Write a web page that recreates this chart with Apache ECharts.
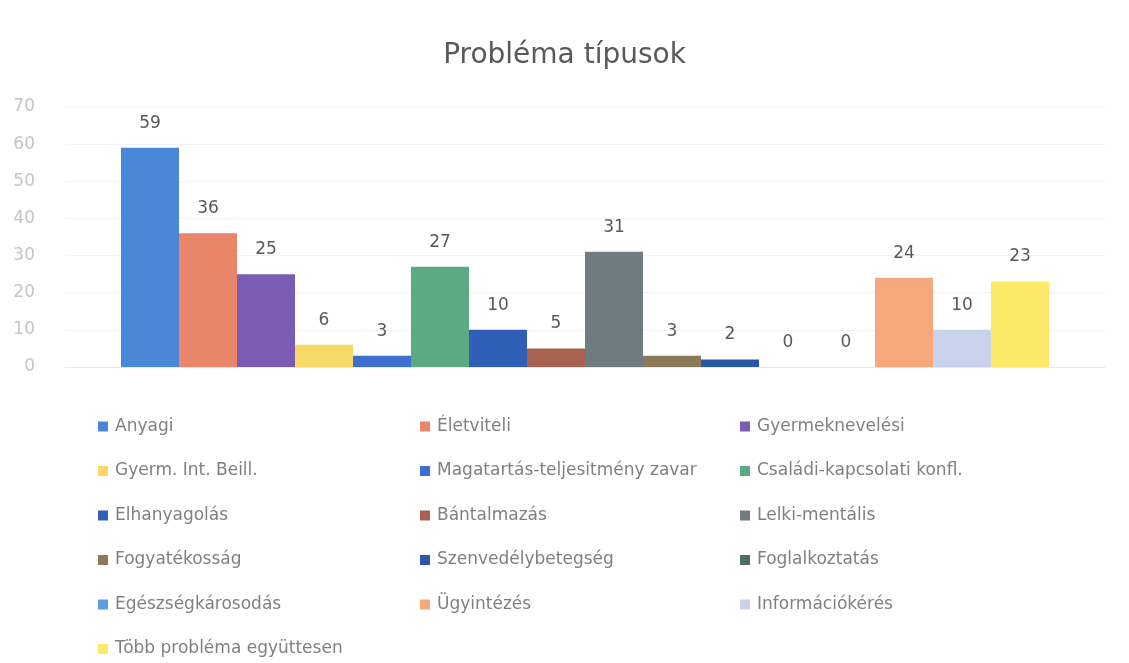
<!DOCTYPE html>
<html>
<head>
<meta charset="utf-8">
<script src="https://cdn.jsdelivr.net/npm/echarts@6/dist/echarts.min.js"></script>
<style>
  html, body { margin: 0; padding: 0; background: #fff; }
  #chart { width: 1129px; height: 663px; }
</style>
</head>
<body>
<div id="chart"></div>
<script>
var names = [
  'Anyagi', 'Életviteli', 'Gyermeknevelési',
  'Gyerm. Int. Beill.', 'Magatartás-teljesitmény zavar', 'Családi-kapcsolati konfl.',
  'Elhanyagolás', 'Bántalmazás', 'Lelki-mentális',
  'Fogyatékosság', 'Szenvedélybetegség', 'Foglalkoztatás',
  'Egészségkárosodás', 'Ügyintézés', 'Információkérés',
  'Több probléma együttesen'
];
var values = [59, 36, 25, 6, 3, 27, 10, 5, 31, 3, 2, 0, 0, 24, 10, 23];
var colors = [
  '#4a87d9', '#e9866a', '#7a5cb5',
  '#f8d866', '#3d6fd0', '#5caa84',
  '#2f5fb6', '#a8624f', '#6f7b80',
  '#8a7a58', '#2b58a6', '#4e6f60',
  '#5c9ce2', '#f5a87c', '#c8d2ea',
  '#fde968'
];
var yTicks = [0, 10, 20, 30, 40, 50, 60, 70];

var font = 'DejaVu Sans';

// legend split in three columns like the reference
var columns = [[], [], []];
names.forEach(function (n, i) { columns[i % 3].push(n); });
var colLeft = [93, 415, 735];

var legends = columns.map(function (col, c) {
  return {
    data: col,
    orient: 'vertical',
    left: colLeft[c],
    top: 413,
    itemWidth: 10,
    itemHeight: 10,
    itemGap: 27.5,
    icon: 'rect',
    textStyle: { color: '#808080', fontSize: 17, fontFamily: font, padding: [0, 0, 0, 2] }
  };
});

var series = names.map(function (n, i) {
  return {
    name: n,
    type: 'bar',
    data: [values[i]],
    barWidth: 58,
    barGap: '0%',
    itemStyle: { color: colors[i] },
    label: {
      show: true,
      position: 'top',
      distance: 16,
      color: '#595959',
      fontSize: 17,
      fontFamily: font
    }
  };
});

var chart = echarts.init(document.getElementById('chart'));
chart.setOption({
  animation: false,
  backgroundColor: '#fff',
  title: {
    text: 'Probléma típusok',
    left: 'center',
    top: 37,
    textStyle: { color: '#595959', fontSize: 28, fontWeight: 'normal', fontFamily: font }
  },
  legend: legends,
  grid: { left: 65, right: 24, top: 107, bottom: 296 },
  xAxis: {
    type: 'category',
    data: [''],
    axisLine: { show: true, lineStyle: { color: '#e8e8e8' } },
    axisTick: { show: false },
    axisLabel: { show: false }
  },
  yAxis: {
    type: 'value',
    min: yTicks[0],
    max: yTicks[yTicks.length - 1],
    interval: 10,
    axisLine: { show: false },
    axisTick: { show: false },
    axisLabel: { color: '#c4c4c4', fontSize: 17, fontFamily: font, margin: 30 },
    splitLine: { lineStyle: { color: '#f2f2f2' } }
  },
  series: series
});
</script>
</body>
</html>
